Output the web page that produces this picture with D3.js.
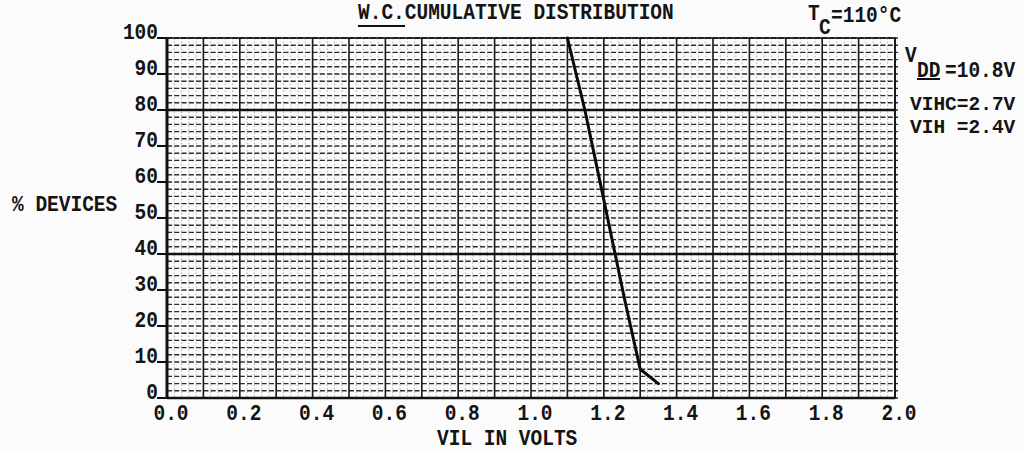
<!DOCTYPE html>
<html><head><meta charset="utf-8">
<script src="https://cdn.jsdelivr.net/npm/d3@7"></script>
<style>
body{margin:0;background:#fbfbfb;}
svg text{font-family:"Liberation Mono","DejaVu Sans Mono",monospace;font-weight:bold;fill:#141414;}
</style>
</head><body>
<svg id="chart" width="1023" height="450"></svg>
<script>
// ---- data ----
const vilVolts = [1.10, 1.148, 1.198, 1.258, 1.30, 1.35];
const pctDevices = [100, 80, 56, 27, 8, 4];
const xTickValues = [0.0, 0.2, 0.4, 0.6, 0.8, 1.0, 1.2, 1.4, 1.6, 1.8, 2.0];
const yTickValues = [0, 10, 20, 30, 40, 50, 60, 70, 80, 90, 100];
const titleText = "W.C.CUMULATIVE DISTRIBUTION";
const xTitle = "VIL IN VOLTS";
const yTitle = "% DEVICES";
const condLines = ["VIHC=2.7V", "VIH =2.4V"];

// ---- layout ----
const svg = d3.select("#chart");
const x = d3.scaleLinear().domain([0, 2]).range([167, 895]);
const y = d3.scaleLinear().domain([0, 100]).range([398, 38]);
const FS = 19.5, SY = 1.12;

function txt(str, px, py, anchor, size, sy) {
  return svg.append("text")
    .attr("transform", `translate(${px},${py}) scale(1,${sy || SY})`)
    .attr("text-anchor", anchor || "start")
    .style("font-size", (size || FS) + "px")
    .text(str);
}

const grid = svg.append("g");
// minor vertical (every 0.02 V)
grid.selectAll(".vmin").data(d3.range(0, 101).map(i => i * 0.02)).enter().append("line")
  .attr("x1", d => x(d)).attr("x2", d => x(d)).attr("y1", y(100)).attr("y2", y(0))
  .attr("stroke", "#a8a8a8").attr("stroke-width", 0.9).attr("stroke-dasharray", "1.5,2");
// minor horizontal (every 2 %), slightly protruding past the right border
grid.selectAll(".hmin").data(d3.range(0, 51).map(i => i * 2)).enter().append("line")
  .attr("x1", x(0)).attr("x2", x(2) + 3).attr("y1", d => y(d)).attr("y2", d => y(d))
  .attr("stroke", "#2c2c2c").attr("stroke-width", 1.4).attr("stroke-dasharray", "5,2.28");
// major vertical (every 0.1 V)
grid.selectAll(".vmaj").data(d3.range(0, 21).map(i => i * 0.1)).enter().append("line")
  .attr("x1", d => x(d)).attr("x2", d => x(d)).attr("y1", y(100)).attr("y2", y(0))
  .attr("stroke", "#1a1a1a").attr("stroke-width", 1.6);
// heavy horizontals
grid.selectAll(".hmaj").data([40, 80]).enter().append("line")
  .attr("x1", x(0)).attr("x2", x(2)).attr("y1", d => y(d)).attr("y2", d => y(d))
  .attr("stroke", "#111").attr("stroke-width", 2.5);
// frame
svg.append("rect").attr("x", x(0)).attr("y", y(100)).attr("width", x(2) - x(0)).attr("height", y(0) - y(100))
  .attr("fill", "none").attr("stroke", "#111").attr("stroke-width", 1.6);
svg.append("line").attr("x1", x(0)).attr("x2", x(0)).attr("y1", y(100)).attr("y2", y(0) + 1)
  .attr("stroke", "#111").attr("stroke-width", 3);
svg.append("line").attr("x1", x(0)).attr("x2", x(2)).attr("y1", y(0)).attr("y2", y(0))
  .attr("stroke", "#111").attr("stroke-width", 2.5);

// y ticks and labels
yTickValues.forEach(v => {
  svg.append("line").attr("x1", x(0) - 10).attr("x2", x(0)).attr("y1", y(v)).attr("y2", y(v))
    .attr("stroke", "#111").attr("stroke-width", 2);
  txt(String(v), x(0) - 9, y(v) + 1, "end");
});
// x labels
xTickValues.forEach(v => txt(v.toFixed(1), x(v) + 4, 420, "middle"));

// titles
txt(xTitle, 437, 445, "start");
txt(yTitle, 12, 211, "start");
txt(titleText, 358, 19, "start");
svg.append("line").attr("x1", 358).attr("x2", 405).attr("y1", 26).attr("y2", 26)
  .attr("stroke", "#111").attr("stroke-width", 2);

// T_C annotation
txt("T", 808, 20, "start");
txt("C", 819, 34, "start");
txt("=110°C", 831, 22, "start");

// V_DD annotation
txt("V", 905, 62, "start");
txt("DD", 917, 77, "start");
svg.append("line").attr("x1", 917).attr("x2", 940).attr("y1", 79).attr("y2", 79)
  .attr("stroke", "#111").attr("stroke-width", 2);
txt("=10.8V", 945, 77, "start");
condLines.forEach((s, i) => txt(s, 910, 110 + i * 23, "start", FS, 1.0));

// curve
const line = d3.line().x(d => x(d[0])).y(d => y(d[1]));
svg.append("path").datum(d3.zip(vilVolts, pctDevices))
  .attr("d", line).attr("fill", "none").attr("stroke", "#0a0a0a").attr("stroke-width", 3)
  .attr("stroke-linejoin", "round").attr("stroke-linecap", "round");
</script>
</body></html>
